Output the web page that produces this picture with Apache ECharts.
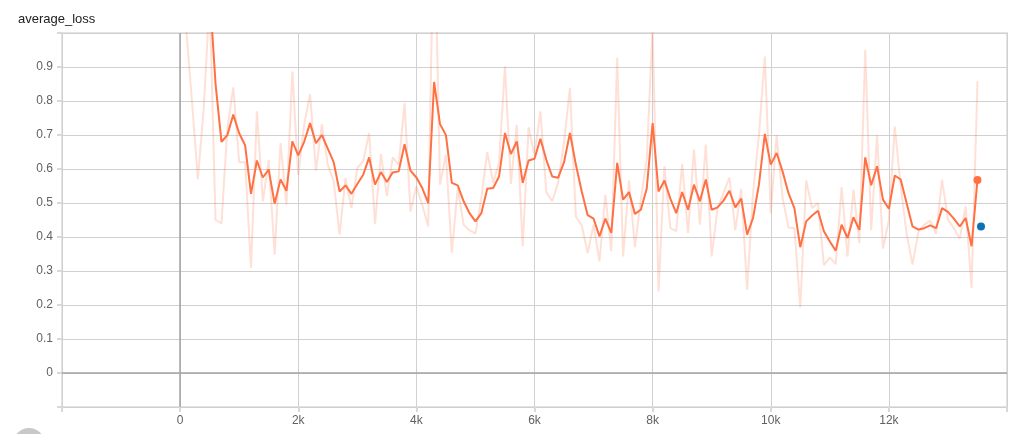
<!DOCTYPE html>
<html>
<head>
<meta charset="utf-8">
<script src="https://cdn.jsdelivr.net/npm/echarts@6/dist/echarts.min.js"></script>
<style>
html,body{margin:0;padding:0;background:#fff;}
#chart{width:1024px;height:434px;}
</style>
</head>
<body>
<div id="chart"></div>
<script>
// ---- data ----
const title = 'average_loss';
const steps = [100,200,300,400,500,600,700,800,900,1000,1100,1200,1300,1400,1500,1600,1700,1800,1900,2000,
  2100,2200,2300,2400,2500,2600,2700,2800,2900,3000,3100,3200,3300,3400,3500,3600,3700,3800,3900,4000,
  4100,4200,4300,4400,4500,4600,4700,4800,4900,5000,5100,5200,5300,5400,5500,5600,5700,5800,5900,6000,
  6100,6200,6300,6400,6500,6600,6700,6800,6900,7000,7100,7200,7300,7400,7500,7600,7700,7800,7900,8000,
  8100,8200,8300,8400,8500,8600,8700,8800,8900,9000,9100,9200,9300,9400,9500,9600,9700,9800,9900,10000,
  10100,10200,10300,10400,10500,10600,10700,10800,10900,11000,11100,11200,11300,11400,11500,11600,11700,11800,11900,12000,
  12100,12200,12300,12400,12500,12600,12700,12800,12900,13000,13100,13200,13300,13400,13500];
const rawLoss = [1.02,0.80,0.57,0.78,1.10,0.45,0.44,0.72,0.84,0.62,0.62,0.31,0.77,0.505,0.627,0.348,0.676,0.495,0.887,0.583,
  0.73,0.82,0.595,0.732,0.613,0.564,0.407,0.574,0.485,0.603,0.623,0.706,0.438,0.644,0.52,0.634,0.613,0.794,0.475,0.549,
  0.495,0.431,1.39,0.554,0.642,0.353,0.544,0.436,0.42,0.41,0.515,0.65,0.559,0.62,0.902,0.556,0.73,0.373,0.723,0.64,
  0.77,0.532,0.505,0.56,0.68,0.838,0.46,0.434,0.353,0.436,0.328,0.524,0.358,0.928,0.343,0.566,0.37,0.51,0.627,1.02,
  0.24,0.608,0.426,0.417,0.615,0.412,0.657,0.436,0.672,0.343,0.485,0.53,0.575,0.42,0.542,0.245,0.53,0.70,0.931,0.47,
  0.699,0.515,0.428,0.426,0.193,0.566,0.485,0.50,0.317,0.34,0.32,0.546,0.343,0.539,0.382,0.951,0.42,0.699,0.366,0.45,
  0.725,0.55,0.41,0.319,0.415,0.436,0.448,0.409,0.569,0.451,0.426,0.395,0.49,0.25,0.858];
const smoothLoss = [1.30,1.25,1.20,1.15,1.12,0.85,0.68,0.70,0.76,0.705,0.67,0.527,0.625,0.575,0.598,0.498,0.569,0.536,0.681,0.64,
  0.68,0.735,0.676,0.70,0.66,0.62,0.534,0.552,0.527,0.556,0.583,0.634,0.554,0.591,0.562,0.59,0.593,0.673,0.595,0.575,
  0.544,0.50,0.856,0.732,0.70,0.559,0.552,0.505,0.47,0.446,0.47,0.542,0.544,0.578,0.706,0.644,0.681,0.559,0.625,0.63,
  0.689,0.627,0.578,0.574,0.62,0.706,0.613,0.534,0.464,0.454,0.402,0.454,0.412,0.618,0.51,0.532,0.468,0.48,0.542,0.735,
  0.534,0.566,0.513,0.47,0.532,0.48,0.554,0.505,0.569,0.48,0.487,0.507,0.536,0.487,0.513,0.407,0.456,0.554,0.703,0.613,
  0.647,0.593,0.529,0.485,0.37,0.446,0.463,0.477,0.417,0.387,0.36,0.436,0.397,0.458,0.421,0.634,0.552,0.608,0.51,0.483,
  0.581,0.569,0.50,0.431,0.422,0.426,0.434,0.426,0.485,0.474,0.454,0.431,0.456,0.373,0.568];
const otherRunSteps = [13560];
const otherRunLoss = [0.431];
const xTicks = [-2000,0,2000,4000,6000,8000,10000,12000,14000];
const yTicks = [-0.1,0,0.1,0.2,0.3,0.4,0.5,0.6,0.7,0.8,0.9,1.0];

// ---- chart ----
const rawPairs = steps.map((s,i)=>[s, rawLoss[i]]);
const smoothPairs = steps.map((s,i)=>[s, smoothLoss[i]]);
const last = steps.length - 1;
const FONT = 'Arial, "Liberation Sans", sans-serif';

const chart = echarts.init(document.getElementById('chart'), null, {renderer:'canvas'});
chart.setOption({
  animation:false,
  backgroundColor:'#fff',
  title:{text:title,left:13,top:8,textStyle:{fontSize:13,fontWeight:'normal',color:'#212121',fontFamily:FONT}},
  grid:{left:62,right:17,top:33,bottom:27,show:true,borderColor:'#e3e3e3',borderWidth:2,backgroundColor:'transparent'},
  xAxis:{type:'value',min:xTicks[0],max:xTicks[xTicks.length-1],interval:2000,
    axisLine:{show:false,onZero:false},
    axisTick:{show:true,length:5,lineStyle:{color:'#d8d8d8',width:2}},
    splitLine:{show:true,lineStyle:{color:'#d0d0d0',width:1}},
    axisLabel:{margin:8,color:'#616161',fontSize:12,fontFamily:FONT,
      formatter:v=>{ if(v===xTicks[0]||v===xTicks[xTicks.length-1]) return ''; return v===0?'0':(v/1000)+'k'; }}
  },
  yAxis:{type:'value',min:yTicks[0],max:yTicks[yTicks.length-1],interval:0.1,
    axisLine:{show:false,onZero:false},
    axisTick:{show:true,length:5,lineStyle:{color:'#d8d8d8',width:2}},
    splitLine:{show:true,lineStyle:{color:'#d0d0d0',width:1}},
    axisLabel:{margin:9,color:'#616161',fontSize:12,fontFamily:FONT,
      formatter:v=>{ const r=Math.round(v*10)/10; if(r<=yTicks[0]||r>=yTicks[yTicks.length-1]) return ''; return r===0?'0':r.toFixed(1); }}
  },
  graphic:[{type:'circle',shape:{cx:29,cy:444,r:16},style:{fill:'#c8c8c8'},silent:true}],
  series:[
    {type:'line',data:[],z:1,silent:true,
      markLine:{silent:true,symbol:'none',label:{show:false},animation:false,
        lineStyle:{color:'#a3a3a3',width:1.5,type:'solid'},
        data:[{yAxis:0},{xAxis:0}]}},
    {name:'raw',type:'line',data:rawPairs,showSymbol:false,z:2,silent:true,
      lineStyle:{color:'#ff7043',width:2,opacity:0.22}},
    {name:'smoothed',type:'line',data:smoothPairs,showSymbol:false,z:3,silent:true,
      lineStyle:{color:'#ff7043',width:2}},
    {type:'scatter',data:[[steps[last],smoothLoss[last]]],symbolSize:8,z:4,silent:true,
      itemStyle:{color:'#ff7043',opacity:1}},
    {type:'scatter',data:otherRunSteps.map((s,i)=>[s,otherRunLoss[i]]),symbolSize:8,z:4,silent:true,
      itemStyle:{color:'#0b72b5',opacity:1}}
  ]
});
</script>
</body>
</html>
